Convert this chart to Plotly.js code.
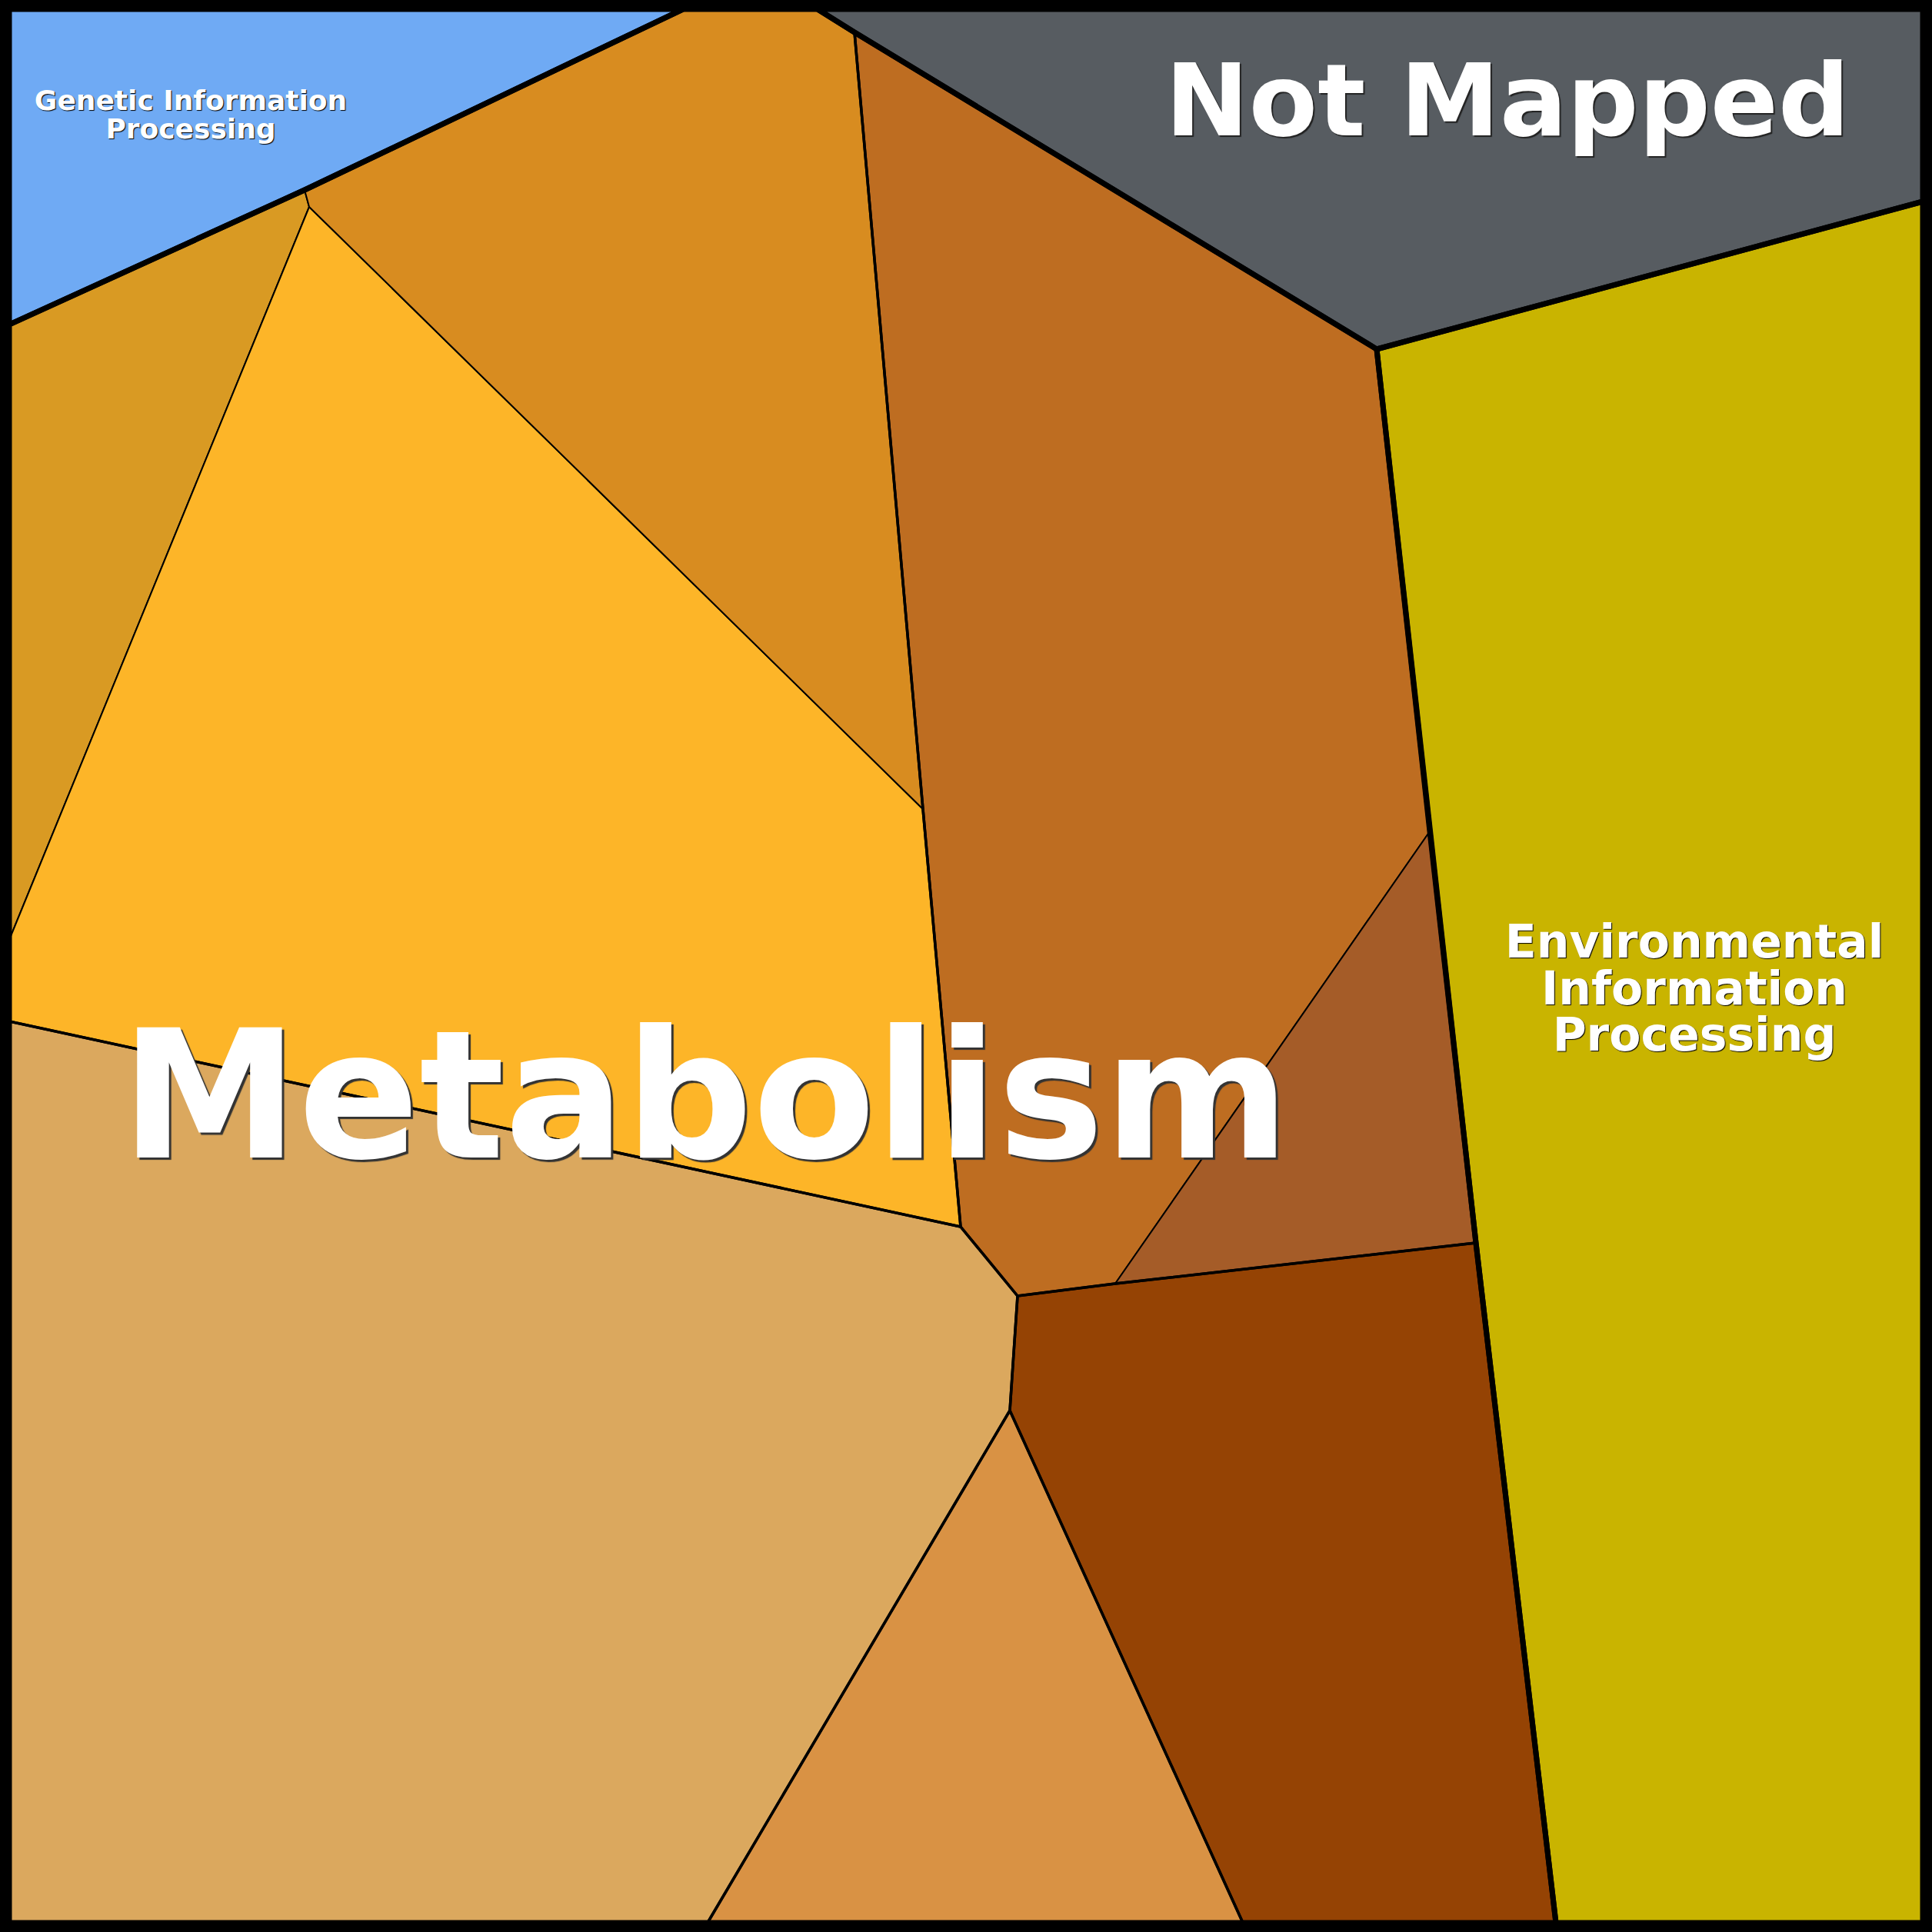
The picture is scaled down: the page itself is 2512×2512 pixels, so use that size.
<!DOCTYPE html>
<html>
<head>
<meta charset="utf-8">
<script src="https://cdn.plot.ly/plotly-3.0.1.min.js"></script>
<style>
html, body { margin: 0; padding: 0; background: #000; }
#chart { width: 2512px; height: 2512px; }
</style>
</head>
<body>
<div id="chart"></div>
<script>
// ---------------- DATA ----------------
// Voronoi treemap vertices (pixel space)
const vertexX = [12, 888, 396, 12, 402, 12, 12, 1063, 1111, 1790, 2500, 2500, 1200, 1249, 1323, 1919, 1859, 1450, 1313, 920, 1616, 2023, 2500, 12];
const vertexY = [12, 12, 247, 422, 269, 1222, 1328, 12, 42, 454, 262, 12, 1052, 1595, 1685, 1616, 1081, 1669, 1834, 2500, 2500, 2500, 2500, 2500];

// top-level categories
const categories = ["Genetic Information Processing", "Not Mapped", "Environmental Information Processing", "Metabolism"];

// leaf cells: id, top-level category, sub-group, polygon (vertex indices)
const cellIds      = ["genetic", "notmapped", "environmental", "metA", "metB", "metC", "metD", "metE", "metF", "metG", "metH"];
const cellCategory = ["Genetic Information Processing", "Not Mapped", "Environmental Information Processing",
                      "Metabolism", "Metabolism", "Metabolism", "Metabolism", "Metabolism", "Metabolism", "Metabolism", "Metabolism"];
const cellGroup    = ["g0", "g1", "g2", "m1", "m1", "m1", "m2", "m2", "m3", "m4", "m5"];
const cellPolygons = [
  [0, 1, 2, 3],
  [7, 11, 10, 9, 8],
  [9, 10, 22, 21, 15, 16],
  [3, 2, 4, 5],
  [4, 12, 13, 6, 5],
  [1, 7, 8, 12, 4, 2],
  [8, 9, 16, 17, 14, 13, 12],
  [16, 15, 17],
  [6, 13, 14, 18, 19, 23],
  [18, 20, 19],
  [14, 17, 15, 21, 20, 18]
];

// sub-group outlines (second level)
const groupIds      = ["m1", "m2", "m3", "m4", "m5"];
const groupPolygons = [
  [1, 7, 8, 12, 13, 6, 5, 3, 2],
  [8, 9, 16, 15, 17, 14, 13, 12],
  [6, 13, 14, 18, 19, 23],
  [18, 20, 19],
  [14, 17, 15, 21, 20, 18]
];

// top-level outlines
const categoryPolygons = [
  [0, 1, 2, 3],
  [7, 11, 10, 9, 8],
  [9, 10, 22, 21, 15, 16],
  [1, 7, 8, 9, 16, 15, 21, 23, 6, 5, 3, 2]
];

// label lines
const labelLines    = ["Genetic Information", "Processing", "Not Mapped", "Metabolism", "Environmental", "Information", "Processing"];
const labelCategory = ["Genetic Information Processing", "Genetic Information Processing", "Not Mapped", "Metabolism",
                       "Environmental Information Processing", "Environmental Information Processing", "Environmental Information Processing"];

// ---------------- STYLE / LAYOUT ----------------
const cellColors = ["#6FAAF4", "#575C61", "#C9B400", "#D99A23", "#FDB528", "#D88C20", "#BE6D21", "#A55C28", "#DBA85E", "#D99244", "#954304"];
const labelX    = [248, 248, 1960, 917, 2203, 2203, 2203];
const labelY    = [134, 171, 143, 1447, 1230, 1291, 1351];
const labelSize = [36, 36, 130, 232, 60, 60, 60];
const labelShadow = ["1px 1px 1px #000", "1px 1px 1px #000", "2px 2px 1px #222", "3px 3px 1px #333",
                     "1px 1px 1px #000", "1px 1px 1px #000", "1px 1px 1px #000"];

function ring(idx) {
  const xs = idx.map(i => vertexX[i]);
  const ys = idx.map(i => vertexY[i]);
  xs.push(xs[0]); ys.push(ys[0]);
  return { x: xs, y: ys };
}

const traces = [];
cellPolygons.forEach((poly, k) => {
  const r = ring(poly);
  traces.push({
    type: "scatter", mode: "lines", x: r.x, y: r.y,
    fill: "toself", fillcolor: cellColors[k],
    line: { color: "#000", width: 2 },
    name: cellIds[k], hoverinfo: "skip", showlegend: false
  });
});
groupPolygons.forEach((poly, k) => {
  const r = ring(poly);
  traces.push({
    type: "scatter", mode: "lines", x: r.x, y: r.y,
    line: { color: "#000", width: 3.5 },
    name: groupIds[k], hoverinfo: "skip", showlegend: false
  });
});
categoryPolygons.forEach((poly, k) => {
  const r = ring(poly);
  traces.push({
    type: "scatter", mode: "lines", x: r.x, y: r.y,
    line: { color: "#000", width: 7 },
    name: categories[k], hoverinfo: "skip", showlegend: false
  });
});
labelLines.forEach((t, k) => {
  traces.push({
    type: "scatter", mode: "text", x: [labelX[k]], y: [labelY[k]],
    text: [t], textposition: "middle center", cliponaxis: false,
    textfont: { family: "DejaVu Sans", size: labelSize[k], color: "#FFFFFF", weight: "bold", shadow: labelShadow[k] },
    name: labelCategory[k], hoverinfo: "skip", showlegend: false
  });
});

const layout = {
  width: 2512, height: 2512,
  margin: { l: 12, r: 12, t: 12, b: 12, pad: 0 },
  paper_bgcolor: "#000000", plot_bgcolor: "#000000",
  xaxis: { range: [12, 2500], visible: false, fixedrange: true },
  yaxis: { range: [2500, 12], visible: false, fixedrange: true },
  showlegend: false, hovermode: false
};

Plotly.newPlot("chart", traces, layout, { displayModeBar: false, staticPlot: true });
</script>
</body>
</html>
